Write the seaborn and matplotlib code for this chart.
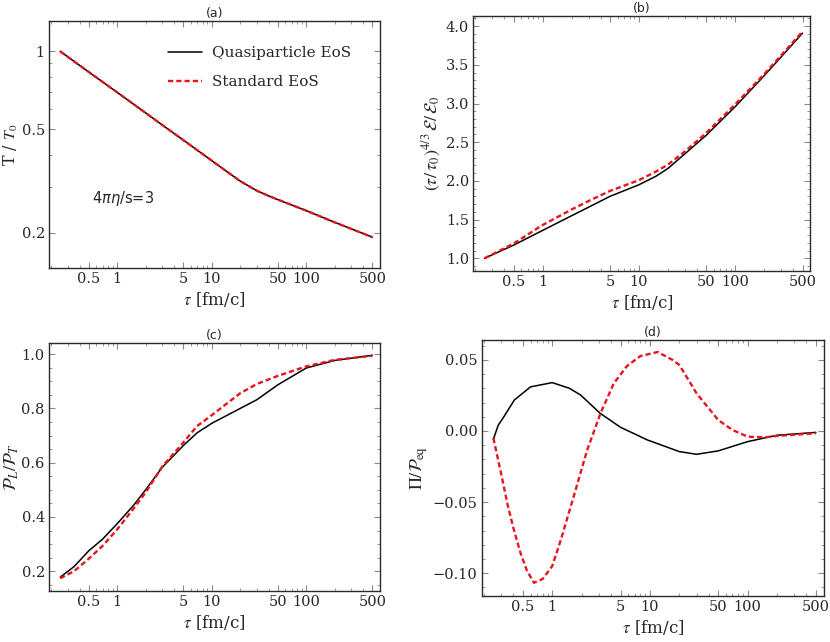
import numpy as np
import pandas as pd
import seaborn as sns
import matplotlib
matplotlib.use("Agg")
import matplotlib.pyplot as plt
from matplotlib.ticker import FixedLocator, FixedFormatter, LogLocator, NullFormatter, MultipleLocator

# panel (a): T/T0 vs tau
tau_a = [0.25, 0.5, 1, 2, 3, 5, 10, 15, 20, 30, 40, 50, 100, 200, 500]
T_quasi = [1.0, 0.833, 0.695, 0.579, 0.52, 0.455, 0.379, 0.3405, 0.316, 0.290, 0.277, 0.268,
           0.243, 0.219, 0.192]
T_std = [1.0, 0.833, 0.695, 0.579, 0.52, 0.455, 0.379, 0.3405, 0.316, 0.290, 0.277, 0.268,
         0.243, 0.219, 0.192]

# panel (b): (tau/tau0)^(4/3) e/e0
tau_b = [0.25, 0.5, 1, 2, 3, 5, 10, 15, 20, 30, 50, 100, 200, 500]
E_quasi = [1.0, 1.17, 1.36, 1.55, 1.66, 1.80, 1.95, 2.06, 2.16, 2.35, 2.59, 2.96, 3.36, 3.91]
E_std = [1.0, 1.19, 1.43, 1.63, 1.74, 1.87, 2.01, 2.12, 2.21, 2.38, 2.62, 2.99, 3.38, 3.93]

# panel (c): PL/PT
tau_c = [0.25, 0.35, 0.5, 0.7, 1, 1.5, 2, 3, 5, 7, 10, 20, 30, 50, 100, 200, 500]
P_quasi = [0.178, 0.217, 0.275, 0.318, 0.375, 0.444, 0.50, 0.583, 0.663, 0.71, 0.745,
           0.800, 0.832, 0.887, 0.949, 0.977, 0.996]
P_std = [0.174, 0.200, 0.246, 0.293, 0.354, 0.432, 0.49, 0.586, 0.674, 0.735, 0.775,
         0.856, 0.890, 0.920, 0.955, 0.979, 0.994]

# panel (d): Pi/Peq
tau_d1 = [0.25, 0.28, 0.32, 0.41, 0.6, 1, 1.5, 1.95, 3.1, 5, 9.4, 20, 30, 50, 100, 200, 500]
Pi_quasi = [-0.0059, 0.004, 0.010, 0.0218, 0.031, 0.034, 0.030, 0.0253, 0.0124, 0.0026,
            -0.0063, -0.0145, -0.0164, -0.014, -0.0075, -0.003, -0.001]
tau_d2 = [0.25, 0.3, 0.35, 0.4, 0.475, 0.55, 0.65, 0.8, 1, 1.22, 1.66, 2.28, 3.12, 4.27,
          5.83, 8, 12, 17, 20, 30, 50, 70, 100, 150, 200, 500]
Pi_std = [-0.005, -0.030, -0.052, -0.068, -0.086, -0.098, -0.1067, -0.104, -0.095, -0.077,
          -0.046, -0.0134, 0.0124, 0.0335, 0.0457, 0.0527, 0.0555, 0.050, 0.0464, 0.0265,
          0.0077, 0.0007, -0.004, -0.0045, -0.0035, -0.0016]

sns.set_style("white")
plt.rcParams["font.family"] = ["DejaVu Serif"]
plt.rcParams["mathtext.fontset"] = "stix"
plt.rcParams["axes.unicode_minus"] = True

fig = plt.figure(figsize=(8.3, 6.42), dpi=100)
ax_a = fig.add_axes([0.059, 0.5826, 0.399, 0.3847])
ax_b = fig.add_axes([0.570, 0.5779, 0.4065, 0.397])
ax_c = fig.add_axes([0.059, 0.0794, 0.399, 0.3858])
ax_d = fig.add_axes([0.5804, 0.0717, 0.4124, 0.3988])

black_kw = dict(color="black", linewidth=1.1, estimator=None, sort=False)
red_kw = dict(color="#e8141b", linewidth=1.7, linestyle=(0, (2.2, 1.3)), estimator=None, sort=False)

sns.lineplot(x=tau_a, y=T_quasi, ax=ax_a, label="Quasiparticle EoS", **black_kw)
sns.lineplot(x=tau_a, y=T_std, ax=ax_a, label="Standard EoS", **red_kw)
sns.lineplot(x=tau_b, y=E_quasi, ax=ax_b, **black_kw)
sns.lineplot(x=tau_b, y=E_std, ax=ax_b, **red_kw)
sns.lineplot(x=tau_c, y=P_quasi, ax=ax_c, **black_kw)
sns.lineplot(x=tau_c, y=P_std, ax=ax_c, **red_kw)
sns.lineplot(x=tau_d1, y=Pi_quasi, ax=ax_d, **black_kw)
sns.lineplot(x=tau_d2, y=Pi_std, ax=ax_d, **red_kw)

xt = [0.5, 1, 5, 10, 50, 100, 500]
xtl = ["0.5", "1", "5", "10", "50", "100", "500"]

for ax, lab in zip([ax_a, ax_b, ax_c, ax_d], ["(a)", "(b)", "(c)", "(d)"]):
    ax.set_xscale("log")
    ax.set_xlim(0.19, 605)
    ax.xaxis.set_major_locator(FixedLocator(xt))
    ax.xaxis.set_major_formatter(FixedFormatter(xtl))
    ax.xaxis.set_minor_locator(LogLocator(base=10, subs=np.arange(2, 10)))
    ax.xaxis.set_minor_formatter(NullFormatter())
    ax.tick_params(which="both", direction="in", bottom=True, left=True, top=True, right=True,
                   color="#8a8a8a", labelsize=10.5, pad=3)
    ax.tick_params(which="major", length=4, width=0.8)
    ax.tick_params(which="minor", length=2.2, width=0.6)
    for s in ax.spines.values():
        s.set_color("#2a2a2a")
        s.set_linewidth(1.0)
    ax.set_xlabel(r"$\tau$ [fm/c]", fontsize=12, labelpad=3)
    ax.set_title(lab, fontsize=9, family="DejaVu Sans", pad=3)

# (a)
ax_a.set_yscale("log")
ax_a.set_ylim(0.146, 1.31)
ax_a.yaxis.set_major_locator(FixedLocator([0.2, 0.5, 1]))
ax_a.yaxis.set_major_formatter(FixedFormatter(["0.2", "0.5", "1"]))
ax_a.yaxis.set_minor_locator(LogLocator(base=10, subs=np.arange(2, 10)))
ax_a.yaxis.set_minor_formatter(NullFormatter())
ax_a.set_ylabel(r"T / $T_0$", fontsize=11.5, labelpad=1)
ax_a.text(0.13, 0.265, r"$4\pi\eta$/s=3", transform=ax_a.transAxes, fontsize=10.5,
          family="DejaVu Sans", math_fontfamily="dejavusans")
leg = ax_a.legend(loc="upper right", bbox_to_anchor=(0.955, 0.955), frameon=False,
                  fontsize=11, handlelength=2.2, labelspacing=1.0, handletextpad=0.7)

# (b)
ax_b.set_ylim(0.836, 4.13)
ax_b.yaxis.set_major_locator(MultipleLocator(0.5))
ax_b.yaxis.set_minor_locator(MultipleLocator(0.1))
ax_b.yaxis.set_major_formatter(plt.FuncFormatter(lambda v, p: f"{v:.1f}"))
ax_b.set_ylabel(r"$(\tau/\,\tau_0)^{4/3}\,\mathcal{E}/\,\mathcal{E}_0$", fontsize=13, labelpad=2)

# (c)
ax_c.set_ylim(0.127, 1.04)
ax_c.yaxis.set_major_locator(MultipleLocator(0.2))
ax_c.yaxis.set_minor_locator(MultipleLocator(0.05))
ax_c.yaxis.set_major_formatter(plt.FuncFormatter(lambda v, p: f"{v:.1f}"))
ax_c.set_ylabel(r"$\mathcal{P}_L/\mathcal{P}_T$", fontsize=13, labelpad=0)

# (d)
ax_d.set_ylim(-0.116, 0.064)
ax_d.yaxis.set_major_locator(MultipleLocator(0.05))
ax_d.yaxis.set_minor_locator(MultipleLocator(0.01))
ax_d.yaxis.set_major_formatter(plt.FuncFormatter(
    lambda v, p: f"{v:.2f}".replace("-", "\u2212") if abs(v) > 1e-9 else "0.00"))
ax_d.set_ylabel(r"$\Pi/\mathcal{P}_{\rm eq}$", fontsize=13, labelpad=2)

fig.savefig("out.png", dpi=100)
